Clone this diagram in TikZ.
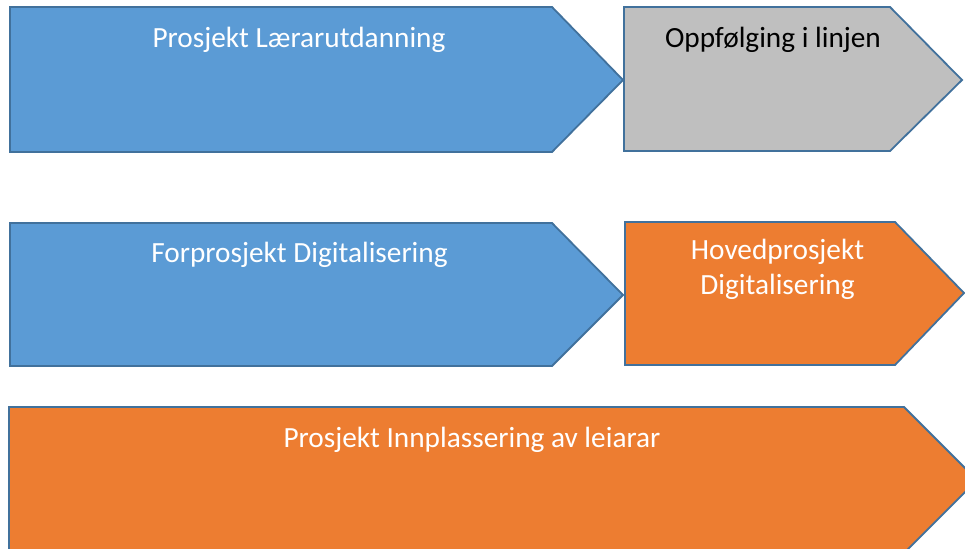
\documentclass[tikz,border=0pt]{standalone}
\usepackage{fontspec}
\setmainfont{Carlito}
\definecolor{pblue}{HTML}{5B9BD5}
\definecolor{porange}{HTML}{ED7D31}
\definecolor{pgray}{HTML}{BFBFBF}
\definecolor{pline}{HTML}{41719C}
\tikzset{
  chev/.style={draw=pline, line width=1.8pt, line join=miter},
  lbl/.style={font=\fontsize{29.3}{35}\selectfont, align=center, inner sep=0pt},
}
\begin{document}
\begin{tikzpicture}[x=1pt,y=-1pt]
\useasboundingbox (0,0) rectangle (965,548);
\fill[white] (0,0) rectangle (965,548);
% row 1
\draw[chev, fill=pblue] (10,7) -- (552,7) -- (623,80) -- (552,152) -- (10,152) -- cycle;
\draw[chev, fill=pgray] (624,7) -- (890,7) -- (962,80) -- (890,151) -- (624,151) -- cycle;
% row 2
\draw[chev, fill=pblue] (10,223) -- (552,223) -- (623,295) -- (552,366) -- (10,366) -- cycle;
\draw[chev, fill=porange] (625,222) -- (895,222) -- (964,293) -- (895,365) -- (625,365) -- cycle;
% row 3
\begin{scope}
\clip (0,0) rectangle (965,548);
\draw[chev, fill=porange] (9,407) -- (904,407) -- (977,480) -- (904,553) -- (9,553) -- cycle;
\end{scope}
% labels
\node[lbl, text=white] (t1) at (299,40) {Prosjekt Lærarutdanning};
\node[lbl, text=black] (t2) at (773,40) {Oppfølging i linjen};
\node[lbl, text=white] (t3) at (299.5,255) {Forprosjekt Digitalisering};
\node[lbl, text=white] (t4) at (777.5,269.5) {Hovedprosjekt\\Digitalisering};
\node[lbl, text=white] (t5) at (472,440) {Prosjekt Innplassering av leiarar};
\end{tikzpicture}
\end{document}
